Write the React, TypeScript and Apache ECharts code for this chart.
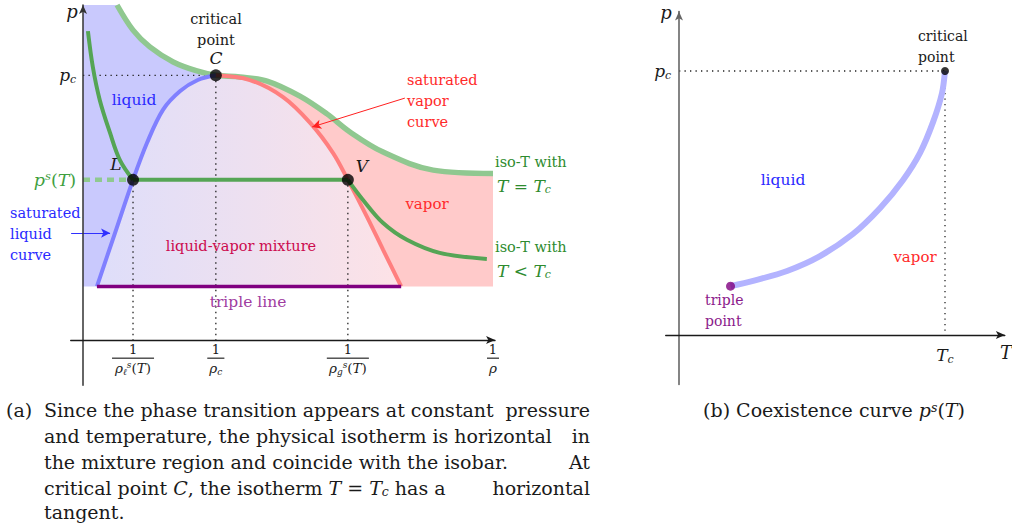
import React, { useEffect, useRef } from 'react';
import * as echarts from 'echarts';

const FONT = "'DejaVu Serif', serif";

// ---------- Left panel: p vs 1/rho (arbitrary units) ----------
const criticalPoint = [3.24, 7.9];
const liquidPoint = [1.22, 4.78];
const vaporPoint = [6.46, 4.78];
const tripleLine = [[0.34, 1.6], [7.76, 1.6]];
const isoTcLeft = [[0.83, 10], [1.22, 9.25], [1.63, 8.75], [2.2, 8.3], [2.78, 8.03], [3.24, 7.9]];
const isoTcRight = [[3.24, 7.9], [3.83, 7.85], [4.49, 7.73], [5.29, 7.28], [5.95, 6.75], [6.51, 6.21], [7.32, 5.61], [8.54, 5.07], [10, 4.97]];
const liquidCurve = [[0.34, 1.6], [0.78, 3.19], [1.22, 4.78], [1.56, 5.88], [1.95, 6.87], [2.37, 7.43], [2.8, 7.76], [3.24, 7.9]];
const vaporCurve = [[3.24, 7.9], [4.07, 7.76], [4.88, 7.25], [5.54, 6.48], [6.1, 5.58], [6.46, 4.78], [6.93, 3.67], [7.32, 2.69], [7.76, 1.6]];
const isoLowLeft = [[0.12, 9.22], [0.24, 8.15], [0.41, 7.16], [0.66, 6.18], [0.9, 5.37], [1.22, 4.78]];
const isoLowFlat = [[1.22, 4.78], [6.46, 4.78]];
const isoLowRight = [[6.46, 4.78], [6.83, 4.18], [7.32, 3.49], [7.9, 2.99], [8.7, 2.6], [9.85, 2.42]];
const vaporArrow = [[7.85, 7.22], [5.59, 6.36]];
const liquidArrow = [[-0.29, 3.19], [0.66, 3.19]];
const rightEdgeBottom = [10, 1.6];
const leftEdgeTop = [0, 10];
const leftEdgeBottom = [0, 1.6];

const leftXTickValues = [1.22, 3.24, 6.46, 10];
const leftXTickLabels = [
  '{n|1}\n{barA|}\n{mi|ρ}{sub|ℓ}{sup|s}{r|(}{mi|T}{r|)}',
  '{n|1}\n{barB|}\n{mi|ρ}{sub|c}',
  '{n|1}\n{barA|}\n{mi|ρ}{sub|g}{sup|s}{r|(}{mi|T}{r|)}',
  '{n|1}\n{barC|}\n{mi|ρ}',
];
const leftYTickValues = [4.78, 7.9];
const leftYTickLabels = ['{gmi|p}{gsup|s}{g|(}{gmi|T}{g|)}', '{pmi|p}{psub|c}'];

// ---------- Right panel: p vs T ----------
const coexistenceCurve = [[1.55, 1.48], [2.23, 1.64], [3.25, 1.94], [4.24, 2.39], [5.23, 3.06], [6.05, 3.85], [6.74, 4.7], [7.25, 5.52], [7.64, 6.45], [7.91, 7.33], [8, 8]];
const triplePoint = [1.55, 1.48];
const rightCritical = [8, 8];
const rightXTickValues = [8];
const rightXTickLabels = ['{pmi|T}{psub|c}'];
const rightYTickValues = [8];
const rightYTickLabels = ['{pmi|p}{psub|c}'];

const INK = '#1a1a1a';

const rich: any = {
  n: { fontFamily: FONT, fontSize: 13, lineHeight: 13, color: INK, align: 'center' },
  barA: { width: 42, height: 0, borderColor: INK, borderWidth: 0.7, lineHeight: 4, align: 'center' },
  barB: { width: 17, height: 0, borderColor: INK, borderWidth: 0.7, lineHeight: 4, align: 'center' },
  barC: { width: 12, height: 0, borderColor: INK, borderWidth: 0.7, lineHeight: 4, align: 'center' },
  mi: { fontFamily: FONT, fontStyle: 'italic', fontSize: 13.5, lineHeight: 16, color: INK, align: 'center' },
  r: { fontFamily: FONT, fontSize: 13.5, lineHeight: 16, color: INK, align: 'center' },
  sub: { fontFamily: FONT, fontStyle: 'italic', fontSize: 9, lineHeight: 9, verticalAlign: 'bottom', color: INK, align: 'center' },
  sup: { fontFamily: FONT, fontStyle: 'italic', fontSize: 9, lineHeight: 9, verticalAlign: 'top', color: INK, align: 'center' },
  pmi: { fontFamily: FONT, fontStyle: 'italic', fontSize: 17, lineHeight: 20, color: INK },
  psub: { fontFamily: FONT, fontStyle: 'italic', fontSize: 11, lineHeight: 11, verticalAlign: 'bottom', color: INK },
  gmi: { fontFamily: FONT, fontStyle: 'italic', fontSize: 17.5, lineHeight: 20, color: '#3f9f3f' },
  g: { fontFamily: FONT, fontSize: 17.5, lineHeight: 20, color: '#3f9f3f' },
  gsup: { fontFamily: FONT, fontStyle: 'italic', fontSize: 11.5, lineHeight: 11, verticalAlign: 'top', color: '#3f9f3f' },
};

const pick = (values: number[], labels: string[]) => (v: number) => {
  let best = 0;
  values.forEach((x, i) => { if (Math.abs(x - v) < Math.abs(values[best] - v)) best = i; });
  return labels[best];
};

const polygon = (pts: number[][], fill: any, xi = 0) => ({
  type: 'custom',
  xAxisIndex: xi,
  yAxisIndex: xi,
  silent: true,
  z: 1,
  data: pts,
  renderItem: (params: any, api: any) => {
    if (params.dataIndex !== 0) return null;
    return {
      type: 'polygon',
      shape: { points: pts.map((p) => api.coord(p)) },
      style: { fill, stroke: null },
    };
  },
});

const curve = (data: number[][], color: string, width: number, smooth: number | boolean, z = 3, xi = 0, extra: any = {}) => ({
  type: 'line',
  xAxisIndex: xi,
  yAxisIndex: xi,
  data,
  symbol: 'none',
  smooth,
  silent: true,
  z,
  lineStyle: { color, width, cap: 'butt' },
  ...extra,
});

const dotted = (data: number[][], xi = 0) => ({
  type: 'line',
  xAxisIndex: xi,
  yAxisIndex: xi,
  data,
  symbol: 'none',
  silent: true,
  z: 2,
  lineStyle: { color: '#222', width: 1.3, type: [1.3, 4.2] },
});

const arrowMark = (pts: number[][], color: string) => ({
  silent: true,
  symbol: ['none', 'arrow'],
  symbolSize: [7, 9],
  label: { show: false },
  lineStyle: { color, width: 1, type: 'solid' },
  data: [[{ coord: pts[0] }, { coord: pts[1] }]],
});

const txt = (text: string, x: number, y: number, o: any = {}) => ({
  type: 'text',
  x,
  y,
  z: 100,
  silent: true,
  style: {
    text,
    fill: o.fill || INK,
    fontFamily: FONT,
    fontSize: o.size || 15,
    fontStyle: o.italic ? 'italic' : 'normal',
    lineHeight: o.lh,
    align: o.align || 'center',
    textAlign: o.align || 'center',
    verticalAlign: 'middle',
    textVerticalAlign: 'middle',
    rich: o.rich,
  },
});

const axisCommon = {
  type: 'value',
  axisTick: { show: false },
  splitLine: { show: false },
  z: 10,
};

const liquidRegion = [leftEdgeTop, ...isoTcLeft, ...liquidCurve.slice(0, -1).reverse(), leftEdgeBottom];
const mixtureRegion = [...liquidCurve, ...vaporCurve.slice(1)];
const vaporRegion = [...isoTcRight, rightEdgeBottom, ...vaporCurve.slice(1).reverse()];

const CAP = 19;
const capRich = {
  i: { fontFamily: FONT, fontStyle: 'italic', fontSize: CAP },
  s: { fontFamily: FONT, fontStyle: 'italic', fontSize: 12.5, verticalAlign: 'bottom', lineHeight: 12 },
  sp: { fontFamily: FONT, fontStyle: 'italic', fontSize: 12.5, verticalAlign: 'top', lineHeight: 12 },
};
const labRich = {
  i: { fontFamily: FONT, fontStyle: 'italic', fontSize: 17, color: '#2e8b2e' },
  s: { fontFamily: FONT, fontStyle: 'italic', fontSize: 11, verticalAlign: 'bottom', lineHeight: 11, color: '#2e8b2e' },
  t: { fontFamily: FONT, fontSize: 17, color: '#2e8b2e' },
};

const option: any = {
  animation: false,
  backgroundColor: '#ffffff',
  grid: [
    { left: 70.7, top: 5, width: 424.35, height: 380.2 },
    { left: 665.7, top: 11.6, width: 339.15, height: 372.9 },
  ],
  xAxis: [
    {
      ...axisCommon,
      gridIndex: 0,
      min: -0.3,
      max: 10.05,
      axisLine: { show: true, onZero: true, symbol: ['none', 'arrow'], symbolSize: [6, 9], lineStyle: { color: INK, width: 1.3 } },
      axisLabel: { show: true, customValues: leftXTickValues, formatter: pick(leftXTickValues, leftXTickLabels), rich, margin: -42 },
    },
    {
      ...axisCommon,
      gridIndex: 1,
      min: -0.4,
      max: 9.8,
      axisLine: { show: true, onZero: true, symbol: ['none', 'arrow'], symbolSize: [6, 9], lineStyle: { color: INK, width: 1.3 } },
      axisLabel: { show: true, customValues: rightXTickValues, formatter: pick(rightXTickValues, rightXTickLabels), rich, margin: -40 },
    },
  ],
  yAxis: [
    {
      ...axisCommon,
      gridIndex: 0,
      min: -1.35,
      max: 10,
      axisLine: { show: true, onZero: true, symbol: ['none', 'arrow'], symbolSize: [6, 9], lineStyle: { color: '#333', width: 1.5 } },
      axisLabel: { show: true, customValues: leftYTickValues, formatter: pick(leftYTickValues, leftYTickLabels), rich, margin: -5.5 },
    },
    {
      ...axisCommon,
      gridIndex: 1,
      min: -1.5,
      max: 9.8,
      axisLine: { show: true, onZero: true, symbol: ['none', 'arrow'], symbolSize: [6, 9], lineStyle: { color: '#666', width: 1.6 } },
      axisLabel: { show: true, customValues: rightYTickValues, formatter: pick(rightYTickValues, rightYTickLabels), rich, margin: -5.5 },
    },
  ],
  series: [
    polygon(liquidRegion, '#c9c9fd'),
    polygon(mixtureRegion, new echarts.graphic.LinearGradient(0, 0, 1, 0, [
      { offset: 0, color: '#dedefa' },
      { offset: 1, color: '#fde2e6' },
    ])),
    polygon(vaporRegion, '#ffcaca'),
    dotted([[0, criticalPoint[1]], criticalPoint]),
    dotted([liquidPoint, [liquidPoint[0], 0]]),
    dotted([criticalPoint, [criticalPoint[0], 0]]),
    dotted([vaporPoint, [vaporPoint[0], 0]]),
    {
      type: 'line', xAxisIndex: 0, yAxisIndex: 0, symbol: 'none', silent: true, z: 3,
      data: [[0, liquidPoint[1]], liquidPoint],
      lineStyle: { color: '#8fc98f', width: 4.5, type: [7, 5] },
    },
    curve([...isoTcLeft, ...isoTcRight.slice(1)], '#90c890', 5.5, 0.35, 3),
    curve(liquidCurve, '#8080ff', 4, 0.35, 4, 0, { markLine: arrowMark(liquidArrow, '#3030ff') }),
    curve(vaporCurve, '#ff7f7f', 4, 0.35, 4, 0, { markLine: arrowMark(vaporArrow, '#ff2020') }),
    curve(isoLowLeft, '#55a555', 4, 0.35, 5),
    curve(isoLowFlat, '#55a555', 4, false, 5),
    curve(isoLowRight, '#55a555', 4, 0.35, 5),
    curve(tripleLine, '#800080', 3.5, false, 5),
    {
      type: 'scatter', xAxisIndex: 0, yAxisIndex: 0, silent: true, z: 8,
      data: [liquidPoint, criticalPoint, vaporPoint],
      symbolSize: 12,
      itemStyle: { color: '#000' },
    },
    // right panel
    dotted([[0, rightCritical[1]], rightCritical], 1),
    dotted([rightCritical, [rightCritical[0], 0]], 1),
    curve(coexistenceCurve, '#b3b3ff', 6, 0.3, 4, 1),
    {
      type: 'scatter', xAxisIndex: 1, yAxisIndex: 1, silent: true, z: 8,
      data: [triplePoint],
      symbolSize: 9,
      itemStyle: { color: '#800080' },
    },
    {
      type: 'scatter', xAxisIndex: 1, yAxisIndex: 1, silent: true, z: 8,
      data: [rightCritical],
      symbolSize: 8,
      itemStyle: { color: '#000' },
    },
  ],
  graphic: [
    // left panel
    txt('p', 72, 11, { italic: true, size: 18 }),
    txt('critical\npoint', 216, 29.5, { size: 14.5, lh: 21 }),
    txt('C', 216, 58, { italic: true, size: 17 }),
    txt('liquid', 134, 100, { fill: '#2a2aff', size: 15.5 }),
    txt('L', 116, 164, { italic: true, size: 17 }),
    txt('V', 362, 166, { italic: true, size: 17 }),
    txt('saturated\nvapor\ncurve', 407, 101, { fill: '#ff2a2a', size: 14.5, lh: 21, align: 'left' }),
    txt('iso-T with', 495, 162, { fill: '#2e8b2e', size: 14.5, align: 'left' }),
    txt('{i|T} {t|=} {i|T}{s|c}', 497, 186, { fill: '#2e8b2e', size: 17, align: 'left', rich: labRich }),
    txt('vapor', 427, 204, { fill: '#ff2a2a', size: 15 }),
    txt('iso-T with', 495, 247, { fill: '#2e8b2e', size: 14.5, align: 'left' }),
    txt('{i|T} {t|<} {i|T}{s|c}', 497, 271, { fill: '#2e8b2e', size: 17, align: 'left', rich: labRich }),
    txt('liquid-vapor mixture', 241, 246, { fill: '#cc0a4e', size: 14.5 }),
    txt('triple line', 248, 302, { fill: '#a03ca0', size: 15.5 }),
    txt('saturated\nliquid\ncurve', 10, 234, { fill: '#2a2aff', size: 14.5, lh: 21, align: 'left' }),
    // right panel
    txt('p', 666, 12, { italic: true, size: 18 }),
    txt('critical\npoint', 918, 46.5, { size: 14, lh: 21, align: 'left' }),
    txt('liquid', 783, 180, { fill: '#2a2aff', size: 15.5 }),
    txt('vapor', 915, 257, { fill: '#ff2a2a', size: 15 }),
    txt('triple\npoint', 705, 310, { fill: '#8b1a8b', size: 14, lh: 21, align: 'left' }),
    txt('T', 1006, 352, { italic: true, size: 18 }),
    txt('(b) Coexistence curve {i|p}{sp|s}({i|T})', 834, 410, { size: CAP, rich: capRich }),
    // caption (a)
    txt('(a)', 6, 410, { size: CAP, align: 'left' }),
    txt('Since the phase transition appears at constant', 44, 410, { size: CAP, align: 'left' }),
    txt('pressure', 590, 410, { size: CAP, align: 'right' }),
    txt('and temperature, the physical isotherm is horizontal', 44, 436, { size: CAP, align: 'left' }),
    txt('in', 590, 436, { size: CAP, align: 'right' }),
    txt('the mixture region and coincide with the isobar.', 44, 462, { size: CAP, align: 'left' }),
    txt('At', 590, 462, { size: CAP, align: 'right' }),
    txt('critical point {i|C}, the isotherm {i|T} = {i|T}{s|c} has a', 44, 488, { size: CAP, align: 'left', rich: capRich }),
    txt('horizontal', 590, 488, { size: CAP, align: 'right' }),
    txt('tangent.', 44, 512, { size: CAP, align: 'left' }),
  ],
};

export default function App() {
  const ref = useRef<HTMLDivElement>(null);
  useEffect(() => {
    const chart = echarts.init(ref.current!, null, { renderer: 'svg' });
    chart.setOption(option);
    return () => chart.dispose();
  }, []);
  return <div ref={ref} style={{ position: 'absolute', left: 0, top: 0, width: 1012, height: 528 }} />;
}
